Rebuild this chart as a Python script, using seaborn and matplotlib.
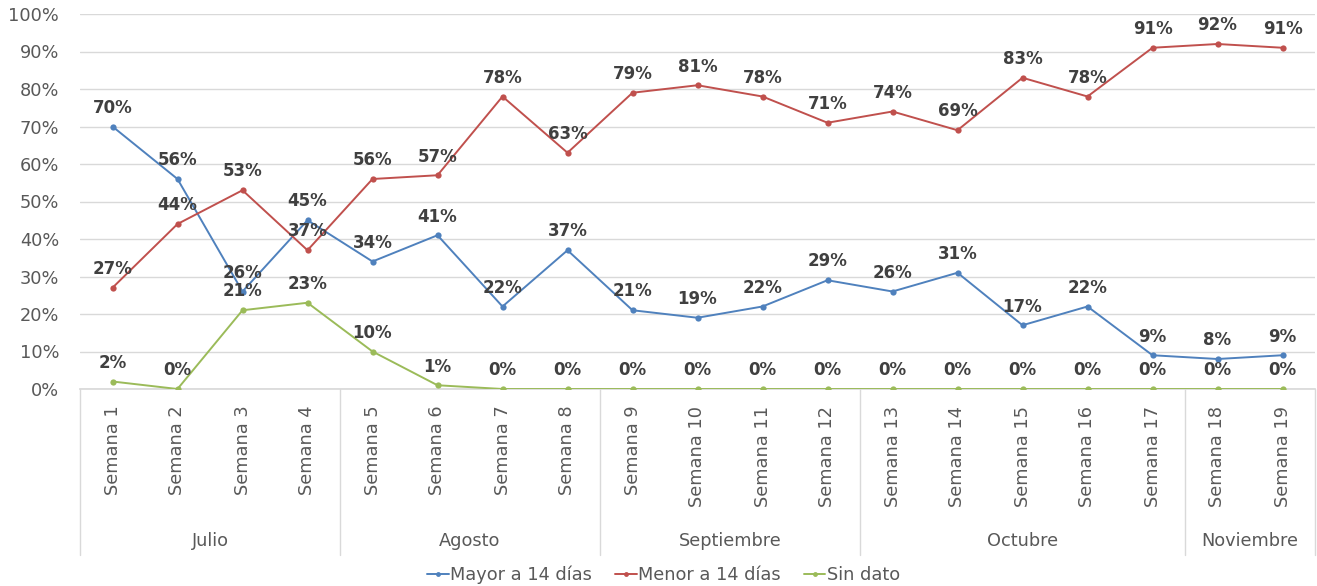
import numpy as np
import pandas as pd
import matplotlib
matplotlib.use("Agg")
import matplotlib.pyplot as plt
import matplotlib.transforms as mtransforms
from matplotlib.lines import Line2D
import seaborn as sns

# datos
semanas = [f"Semana {i}" for i in range(1, 20)]
meses = ["Julio", "Agosto", "Septiembre", "Octubre", "Noviembre"]
semanas_por_mes = [4, 4, 4, 5, 2]

mayor_14 = [70, 56, 26, 45, 34, 41, 22, 37, 21, 19, 22, 29, 26, 31, 17, 22, 9, 8, 9]
menor_14 = [27, 44, 53, 37, 56, 57, 78, 63, 79, 81, 78, 71, 74, 69, 83, 78, 91, 92, 91]
sin_dato = [2, 0, 21, 23, 10, 1, 0, 0, 0, 0, 0, 0, 0, 0, 0, 0, 0, 0, 0]

series = ["Mayor a 14 días", "Menor a 14 días", "Sin dato"]
colores = ["#4F81BD", "#C0504D", "#9BBB59"]

df = pd.DataFrame({
    "pos": list(range(len(semanas))) * 3,
    "valor": mayor_14 + menor_14 + sin_dato,
    "serie": [s for s in series for _ in semanas],
})

sns.set_theme(style="white")
plt.rcParams["font.family"] = ["DejaVu Sans"]
fs = 12.8

fig = plt.figure(figsize=(13.17, 5.86), dpi=100)
ax = fig.add_axes([80 / 1317, (586 - 389) / 586, 1235 / 1317, 375 / 586])

sns.lineplot(data=df, x="pos", y="valor", hue="serie", palette=colores,
             marker="o", markersize=4.5, markeredgewidth=0, linewidth=1.4,
             legend=False, ax=ax, zorder=3)

# etiquetas de datos
for s, vals in zip(series, [mayor_14, menor_14, sin_dato]):
    for i, v in enumerate(vals):
        ax.annotate(f"{v}%", (i, v), xytext=(0, 13.5), textcoords="offset points",
                    ha="center", va="center", fontsize=12, fontweight="bold",
                    color="#404040", zorder=4)

ax.set_xlim(-0.5, len(semanas) - 0.5)
ax.set_ylim(0, 100)
ax.set_yticks(range(0, 101, 10))
ax.set_yticklabels([f"{v}%" for v in range(0, 101, 10)])
ax.yaxis.grid(True, color="#D9D9D9", linewidth=1)
ax.set_xticks(range(len(semanas)))
ax.set_xticklabels(semanas, rotation=90, va="top", ha="center")
ax.tick_params(axis="x", length=0, pad=12, labelsize=fs, labelcolor="#595959")
ax.tick_params(axis="y", length=0, pad=15, labelsize=fs, labelcolor="#595959")
ax.set_xlabel("")
ax.set_ylabel("")
for sp in ["top", "right", "left"]:
    ax.spines[sp].set_visible(False)
ax.spines["bottom"].set_color("#D9D9D9")

# eje de categorias con meses
trans = mtransforms.blended_transform_factory(ax.transData, ax.transAxes)
limites = np.concatenate([[0], np.cumsum(semanas_por_mes)]) - 0.5
for b in limites:
    ax.add_line(Line2D([b, b], [0, -0.443], transform=trans, color="#D9D9D9",
                       linewidth=1, clip_on=False))
for m, a, b in zip(meses, limites[:-1], limites[1:]):
    ax.text((a + b) / 2, -0.405, m, transform=trans, ha="center", va="center",
            fontsize=fs, color="#595959")

handles = [Line2D([0], [0], color=c, marker="o", markersize=3.5, markeredgewidth=0,
                  linewidth=1.4) for c in colores]
fig.legend(handles, series, loc="center", bbox_to_anchor=(0.504, 0.019), ncol=3,
           frameon=False, fontsize=fs, handlelength=1.2, handletextpad=0.1,
           columnspacing=1.3, labelcolor="#595959")

fig.savefig("out.png", dpi=100)
